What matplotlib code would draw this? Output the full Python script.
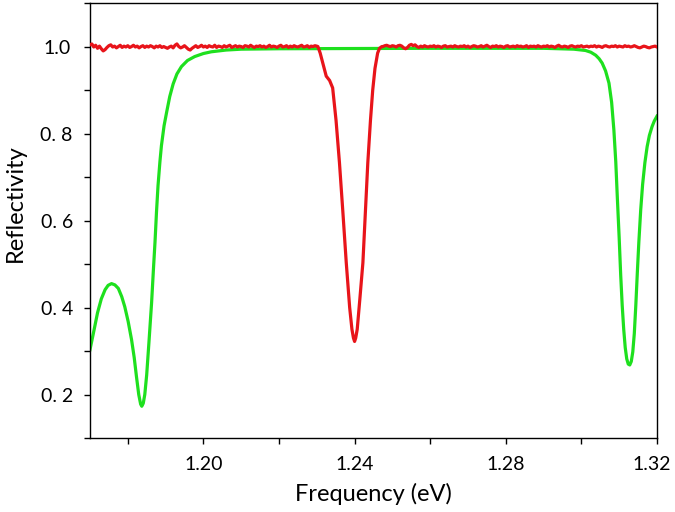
import numpy as np
import matplotlib
matplotlib.use("Agg")
import matplotlib.pyplot as plt
from matplotlib.ticker import MultipleLocator
from matplotlib.transforms import ScaledTranslation

GREEN, RED = "#1ee01e", "#e8141a"

# green curve (calculated spectrum)
green_x = [1.1700, 1.1710, 1.1720, 1.1730, 1.1740, 1.1748, 1.1757, 1.1766, 1.1775,
           1.1784, 1.1792, 1.1801, 1.1810, 1.1817, 1.1823, 1.1829, 1.1834, 1.1837,
           1.1841, 1.1845, 1.1850, 1.1856, 1.1863, 1.1868, 1.1872, 1.1876, 1.1880,
           1.1885, 1.1889, 1.1896, 1.1903, 1.1911, 1.1920, 1.1930, 1.1942, 1.1958,
           1.1977, 1.2000, 1.2021, 1.2060, 1.2100, 1.2200, 1.2600, 1.2900, 1.2941,
           1.2980, 1.3011, 1.3025, 1.3038, 1.3047, 1.3055, 1.3064, 1.3073, 1.3080,
           1.3086, 1.3091, 1.3095, 1.3100, 1.3104, 1.3108, 1.3112, 1.3116, 1.3120,
           1.3124, 1.3128, 1.3132, 1.3136, 1.3140, 1.3144, 1.3148, 1.3152, 1.3157,
           1.3162, 1.3168, 1.3174, 1.3180, 1.3187, 1.3193, 1.3200]
green_y = [0.303, 0.345, 0.388, 0.420, 0.441, 0.451, 0.455, 0.452, 0.444,
           0.425, 0.402, 0.368, 0.326, 0.285, 0.241, 0.200, 0.178, 0.173,
           0.180, 0.200, 0.245, 0.320, 0.411, 0.490, 0.550, 0.620, 0.680,
           0.735, 0.772, 0.818, 0.850, 0.885, 0.914, 0.937, 0.954, 0.968,
           0.977, 0.984, 0.988, 0.992, 0.994, 0.995, 0.996, 0.996, 0.995,
           0.994, 0.991, 0.987, 0.980, 0.972, 0.962, 0.944, 0.916, 0.872,
           0.808, 0.735, 0.655, 0.560, 0.475, 0.405, 0.350, 0.308, 0.282,
           0.270, 0.268, 0.276, 0.298, 0.340, 0.405, 0.480, 0.550, 0.625,
           0.683, 0.733, 0.770, 0.796, 0.816, 0.829, 0.840]

# red curve (measured): noisy flat part, the dip, noisy flat part
red_left = [1.004, 1.006, 0.999, 1.003, 0.996, 1.001, 0.995, 0.990, 0.993, 0.998,
            1.002, 1.004, 0.999, 1.001, 0.997, 1.000, 1.003, 0.998, 1.001, 0.999,
            1.002, 0.998, 1.000, 1.003, 0.999, 1.001, 0.997, 1.000, 1.002, 0.998,
            1.001, 0.999, 1.002, 1.000, 0.997, 1.001, 0.999, 1.002, 0.998, 1.000,
            0.998, 0.996, 0.999, 1.001, 0.997, 1.003, 1.006, 1.000, 0.997, 0.999,
            1.002, 0.998, 0.994, 0.992, 0.996, 0.999, 1.002, 0.998, 1.000, 1.003,
            0.999, 1.001, 0.998, 1.002, 1.000, 0.999, 1.003, 0.998, 1.001, 1.000,
            0.998, 1.002, 0.999, 1.001, 1.003, 0.998, 1.000, 1.002, 0.999, 1.001,
            1.000, 0.998, 1.002, 1.001, 0.999, 1.003, 1.000, 0.998, 1.001, 1.000,
            1.002, 0.999, 1.001, 0.998, 1.000, 1.003, 0.999, 1.001, 1.000, 0.998,
            1.001, 1.003, 0.999, 1.000, 1.002, 0.998, 1.001, 0.999, 1.002, 1.000,
            0.999, 1.001, 1.003, 0.999, 1.000, 1.002, 0.998, 1.001, 1.000, 1.002,
            1.001]
red_dip_x = [1.2303, 1.2309, 1.2316, 1.2325, 1.2334, 1.2342, 1.2351, 1.2360, 1.2369,
             1.2378, 1.2387, 1.2393, 1.2397, 1.2400, 1.2403, 1.2407, 1.2414, 1.2422,
             1.2428, 1.2435, 1.2442, 1.2448, 1.2454, 1.2461, 1.2466, 1.2472]
red_dip_y = [1.000, 0.985, 0.962, 0.932, 0.922, 0.905, 0.830, 0.733, 0.620,
             0.503, 0.400, 0.350, 0.330, 0.322, 0.330, 0.350, 0.420, 0.503,
             0.610, 0.733, 0.830, 0.900, 0.950, 0.985, 0.996, 1.000]
red_right = [1.000, 1.002, 1.003, 1.001, 1.000, 1.002, 1.001, 0.999, 1.002, 1.003,
             1.001, 0.997, 0.995, 0.998, 1.003, 1.005, 1.002, 1.004, 1.000, 0.998,
             1.001, 0.999, 1.002, 1.000, 0.999, 1.001, 1.000, 1.002, 0.999, 1.001,
             1.000, 0.998, 1.001, 1.002, 0.999, 1.000, 1.001, 0.999, 1.002, 1.000,
             0.999, 1.001, 1.000, 1.002, 0.999, 1.001, 0.998, 1.000, 1.002, 1.001,
             0.999, 1.000, 1.002, 0.999, 1.001, 1.003, 1.000, 0.998, 1.001, 1.000,
             1.002, 0.999, 1.001, 1.000, 0.998, 1.001, 1.002, 0.999, 1.000, 1.001,
             0.999, 1.002, 1.000, 1.001, 0.999, 1.000, 1.002, 0.998, 1.001, 1.000,
             1.001, 0.999, 1.002, 1.000, 0.999, 1.001, 1.000, 1.002, 0.999, 1.001,
             1.000, 0.998, 1.001, 1.003, 1.000, 0.999, 1.001, 1.000, 0.998, 1.001,
             1.002, 1.000, 0.999, 1.001, 1.000, 1.002, 0.999, 1.000, 1.001, 0.999,
             1.001, 1.000, 1.002, 0.999, 1.001, 1.000, 0.998, 1.001, 1.002, 1.000,
             0.999, 1.001, 1.000, 1.002, 0.999, 1.001, 1.000, 0.999, 1.002, 1.000,
             1.001, 0.999, 1.000, 1.002, 1.000, 0.998, 0.997, 0.999, 1.001, 1.000,
             0.998, 0.997, 0.999, 1.000, 1.001, 0.999]

x_ticks = [1.20, 1.24, 1.28, 1.32]
x_labels = ["1.20", "1.24", "1.28", "1.32"]
y_ticks = [0.2, 0.4, 0.6, 0.8, 1.0]
y_labels = ["0. 2", "0. 4", "0. 6", "0. 8", "1.0"]

# sampling grid of the measured flat stretches
red_x = np.concatenate([np.linspace(1.170, 1.230, len(red_left)), red_dip_x,
                        np.linspace(1.2475, 1.320, len(red_right))])
red_y = np.concatenate([red_left, red_dip_y, red_right])

plt.rcParams["font.family"] = ["Lato", "DejaVu Sans"]

fig = plt.figure(figsize=(6.75, 5.12), dpi=100)
ax = fig.add_axes([0.1333, 0.1445, 0.84, 0.8495])

ax.plot(green_x, green_y, color=GREEN, lw=2.3, zorder=2, solid_joinstyle="round")
ax.plot(red_x, red_y, color=RED, lw=2.3, zorder=3, solid_joinstyle="round")

ax.set_xlim(1.17, 1.32)
ax.set_ylim(0.1, 1.1)
ax.set_xticks(x_ticks)
ax.set_xticklabels(x_labels)
ax.set_yticks(y_ticks)
ax.set_yticklabels(y_labels)
ax.xaxis.set_minor_locator(MultipleLocator(0.02))
ax.yaxis.set_minor_locator(MultipleLocator(0.1))

ax.tick_params(which="both", direction="out", top=False, right=False,
               width=1.0, length=4, labelsize=14, colors="black")
ax.tick_params(axis="x", pad=9)
ax.tick_params(axis="y", pad=20)
for lbl in ax.get_yticklabels():
    lbl.set_horizontalalignment("center")
# last x label sits against the right edge of the figure
last = ax.get_xticklabels()[-1]
last.set_transform(last.get_transform() + ScaledTranslation(-4 / 72, 0, fig.dpi_scale_trans))

for s in ax.spines.values():
    s.set_linewidth(1.0)

ax.set_xlabel("Frequency (eV)", fontsize=17, labelpad=7)
ax.set_ylabel("Reflectivity", fontsize=17)
ax.yaxis.set_label_coords(-0.113, 0.54)

fig.savefig("out.png", dpi=100)
